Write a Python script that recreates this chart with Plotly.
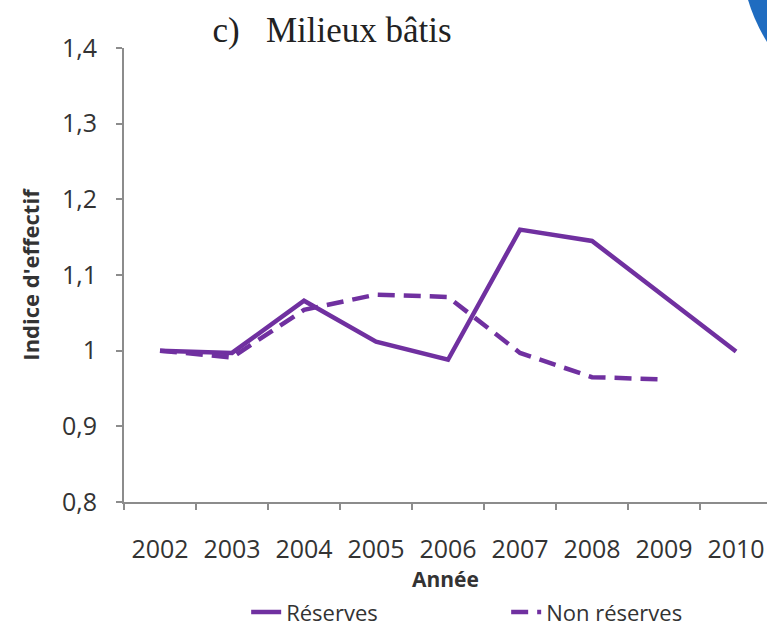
import plotly.graph_objects as go

years = ["2002", "2003", "2004", "2005", "2006", "2007", "2008", "2009", "2010"]
reserves = [1.000, 0.997, 1.066, 1.012, 0.988, 1.160, 1.145, 1.072, 0.999]
non_reserves = [1.000, 0.991, 1.054, 1.074, 1.071, 0.997, 0.965, 0.962]

purple = "#7030A0"
axis_grey = "#8c8c8c"
text_col = "#333333"
font_sans = "Open Sans"

fig = go.Figure()
fig.add_trace(go.Scatter(x=years, y=reserves, mode="lines", name="Réserves",
                         line=dict(color=purple, width=4.5)))
fig.add_trace(go.Scatter(x=years[:len(non_reserves)], y=non_reserves, mode="lines",
                         name="Non réserves",
                         line=dict(color=purple, width=4.5, dash="17px,9px")))

fig.update_layout(
    width=767, height=629,
    margin=dict(l=124, r=0, t=48, b=127, autoexpand=False),
    paper_bgcolor="white", plot_bgcolor="white",
    separators=", ",
    font=dict(family=font_sans, size=20, color=text_col),
    title=dict(text="c)   Milieux bâtis", x=332/767, xanchor="center",
               y=1 - 30/629, yanchor="middle",
               font=dict(family="Liberation Serif", size=35, color="#222222")),
    showlegend=True,
    legend=dict(orientation="h", x=0.19, xanchor="left", y=-0.243, yanchor="middle",
                entrywidth=215,
                font=dict(family=font_sans, size=22, color=text_col),
                bgcolor="rgba(0,0,0,0)"),
)

fig.update_xaxes(
    type="category", range=[-0.5, 8.43], automargin=False,
    showline=True, linecolor=axis_grey, linewidth=2,
    showgrid=False, zeroline=False,
    ticks="outside", tickson="boundaries", ticklen=6, tickcolor=axis_grey, tickwidth=1.5,
    ticklabelstandoff=24,
    tickfont=dict(family=font_sans, size=25, color=text_col),
    title=dict(text="<b>Année</b>", standoff=4,
               font=dict(family=font_sans, size=21, color=text_col)),
)
fig.update_yaxes(
    range=[0.8, 1.4], dtick=0.1, tick0=0.8, automargin=False,
    showline=True, linecolor=axis_grey, linewidth=2,
    showgrid=False, zeroline=False,
    ticks="outside", ticklen=6, tickcolor=axis_grey, tickwidth=1.5,
    ticklabelstandoff=14,
    tickfont=dict(family=font_sans, size=25, color=text_col),
    title=dict(text="<b>Indice d'effectif</b>", standoff=16,
               font=dict(family=font_sans, size=22, color=text_col)),
)

# blue decoration in the top-right corner of the reference image
fig.add_shape(type="path", xref="paper", yref="paper",
              path="M 0.9705 1.106 Q 0.980 1.060 1.0 1.013 L 1.01 1.013 L 1.01 1.106 Z",
              fillcolor="#1f6cc0", line=dict(width=0), layer="above")

fig.write_html("out.html", config={"displayModeBar": False},
               post_script="document.body.style.margin='0';document.body.style.overflow='hidden';")
